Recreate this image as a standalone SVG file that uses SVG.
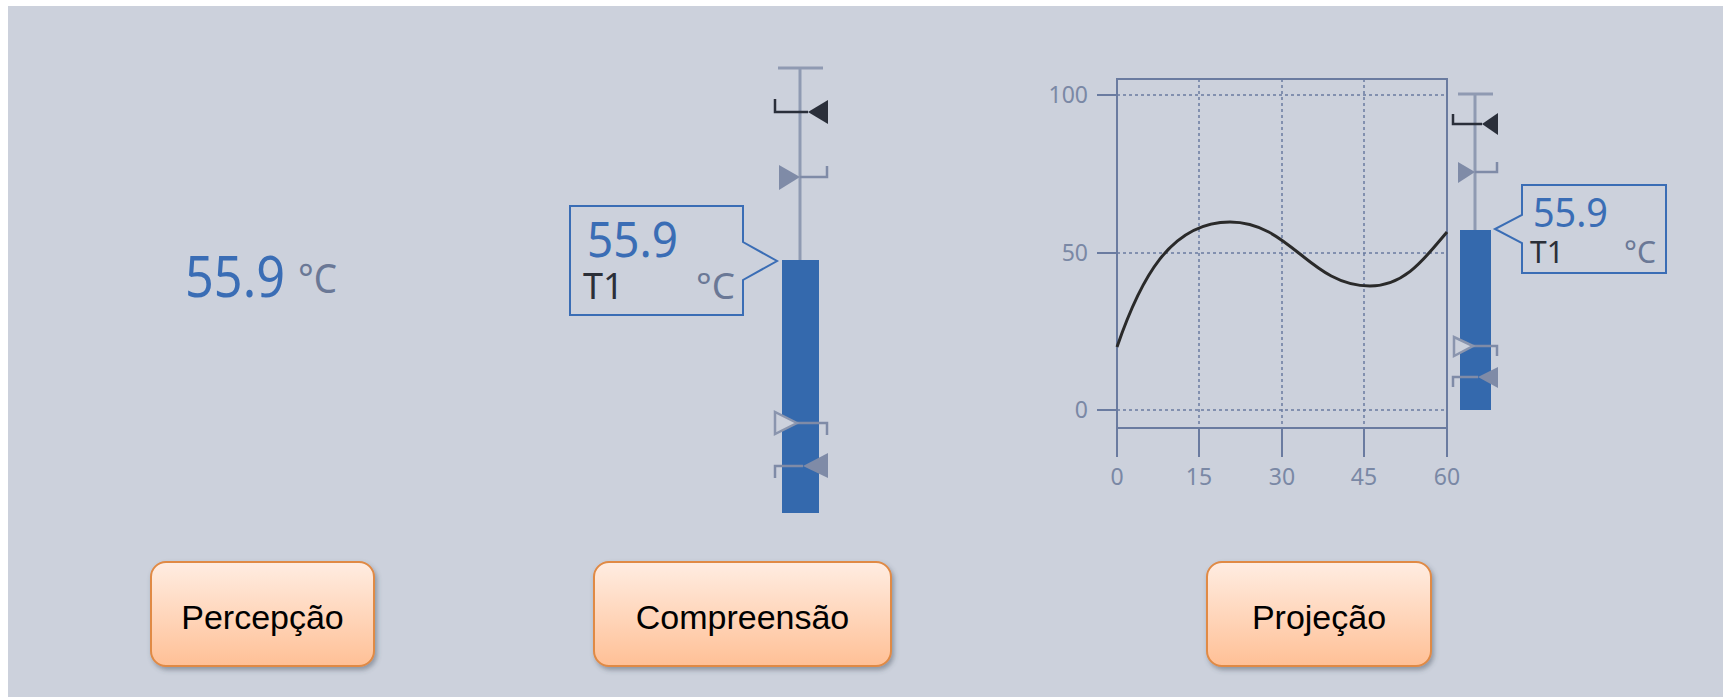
<svg xmlns="http://www.w3.org/2000/svg" width="1723" height="697" viewBox="0 0 1723 697">
<style>
.num{font-family:"Noto Sans","Open Sans",sans-serif;fill:#3A6DB5}
.tag{font-family:"Noto Sans","Open Sans",sans-serif;fill:#2B2F38}
.unit{font-family:"Noto Sans","Open Sans",sans-serif;fill:#6A7896}
.axl{font-family:"Noto Sans","Open Sans",sans-serif;fill:#7A88A5;font-size:23px}
.btn{fill:url(#bg);stroke:#E08A45;stroke-width:2;filter:url(#sh)}
.btxt{font-family:"Liberation Sans",Arial,sans-serif;font-size:34px;fill:#000;text-anchor:middle}
.stem{stroke:#8F9AB2;stroke-width:3;fill:none}
.bar{fill:#3469AD}
.dk{fill:#2A2F3A}
.dkl{stroke:#2A2F3A;stroke-width:2.5;fill:none}
.gr{fill:#7F8BA7}
.grl{stroke:#7F8BA7;stroke-width:2.5;fill:none}
.callout{fill:none;stroke:#3A6DB5;stroke-width:2}
.grid{stroke:#6A7BA0;stroke-width:1.5;stroke-dasharray:3 3;fill:none}
.axis{stroke:#6A7BA0;stroke-width:2;fill:none}
.curve{stroke:#2A2A2A;stroke-width:3;fill:none}
</style>
<defs>
<linearGradient id="bg" x1="0" y1="0" x2="0" y2="1">
<stop offset="0" stop-color="#FFEDE2"/>
<stop offset="1" stop-color="#FFC096"/>
</linearGradient>
<filter id="sh" x="-10%" y="-10%" width="130%" height="140%">
<feDropShadow dx="2" dy="3" stdDeviation="2.5" flood-color="#404858" flood-opacity="0.45"/>
</filter>
</defs>
<rect x="0" y="0" width="1723" height="697" fill="#FFFFFF"/>
<rect x="8" y="6" width="1715" height="691" fill="#CCD1DC"/>

<g id="perception-value">
<text class="num" x="185" y="297" font-size="56" textLength="100" lengthAdjust="spacingAndGlyphs">55.9</text>
<text class="unit" x="298" y="293" font-size="40" textLength="39" lengthAdjust="spacingAndGlyphs">°C</text>
</g>

<g id="comprehension-gauge">
<line class="stem" x1="778" y1="68" x2="823" y2="68"/>
<line class="stem" x1="800" y1="68" x2="800" y2="262"/>
<polyline class="dkl" points="775,99 775,112 808,112"/>
<polygon class="dk" points="808,112 828,100 828,124"/>
<polyline class="grl" points="800,177 827,177 827,166"/>
<polygon class="gr" points="800,177 779,165 779,190"/>
<rect class="bar" x="782" y="260" width="37" height="253"/>
<polyline class="grl" points="797,423 827,423 827,435"/>
<polygon points="797,423 775,412 775,434" fill="#CCD1DC" stroke="#8A95AE" stroke-width="2.5"/>
<polyline class="grl" points="775,478 775,466 803,466"/>
<polygon class="gr" points="803,466 828,453 828,478"/>
<path class="callout" d="M570,206 H743 V242 L777,261 L743,280 V315 H570 Z"/>
<text class="num" x="587" y="257" font-size="50" textLength="91" lengthAdjust="spacingAndGlyphs">55.9</text>
<text class="tag" x="583" y="299" font-size="36">T1</text>
<text class="unit" x="696" y="299" font-size="36" textLength="39" lengthAdjust="spacingAndGlyphs">°C</text>
</g>

<g id="projection-chart">
<g class="grid">
<line x1="1117" y1="95" x2="1447" y2="95"/>
<line x1="1117" y1="253" x2="1447" y2="253"/>
<line x1="1117" y1="410" x2="1447" y2="410"/>
<line x1="1199" y1="79" x2="1199" y2="428"/>
<line x1="1282" y1="79" x2="1282" y2="428"/>
<line x1="1364" y1="79" x2="1364" y2="428"/>
</g>
<g class="axis">
<path d="M1117,457 V79 H1447 V457"/>
<line x1="1117" y1="428" x2="1447" y2="428"/>
<line x1="1199" y1="428" x2="1199" y2="457"/>
<line x1="1282" y1="428" x2="1282" y2="457"/>
<line x1="1364" y1="428" x2="1364" y2="457"/>
<line x1="1097" y1="95" x2="1117" y2="95"/>
<line x1="1097" y1="253" x2="1117" y2="253"/>
<line x1="1097" y1="410" x2="1117" y2="410"/>
</g>
<text class="axl" x="1088" y="103" text-anchor="end">100</text>
<text class="axl" x="1088" y="261" text-anchor="end">50</text>
<text class="axl" x="1088" y="418" text-anchor="end">0</text>
<text class="axl" x="1117" y="485" text-anchor="middle">0</text>
<text class="axl" x="1199" y="485" text-anchor="middle">15</text>
<text class="axl" x="1282" y="485" text-anchor="middle">30</text>
<text class="axl" x="1364" y="485" text-anchor="middle">45</text>
<text class="axl" x="1447" y="485" text-anchor="middle">60</text>
<path class="curve" d="M1117,347 C1140,280 1170,222 1230,222 C1290,222 1310,286 1370,286 C1405,286 1425,258 1447,232"/>
</g>

<g id="projection-gauge">
<line class="stem" x1="1458" y1="94" x2="1493" y2="94"/>
<line class="stem" x1="1475" y1="94" x2="1475" y2="232"/>
<polyline class="dkl" points="1453,114 1453,124 1482,124"/>
<polygon class="dk" points="1482,124 1498,113 1498,135"/>
<polyline class="grl" points="1475,172 1497,172 1497,162"/>
<polygon class="gr" points="1475,172 1458,162 1458,183"/>
<rect class="bar" x="1460" y="230" width="31" height="180"/>
<polyline class="grl" points="1473,346 1497,346 1497,356"/>
<polygon points="1473,346 1454,337 1454,356" fill="#CCD1DC" stroke="#8A95AE" stroke-width="2.5"/>
<polyline class="grl" points="1453,387 1453,377 1478,377"/>
<polygon class="gr" points="1478,377 1498,367 1498,388"/>
<path class="callout" d="M1522,185 H1666 V273 H1522 V243 L1495,229 L1522,215 Z"/>
<text class="num" x="1533" y="227" font-size="40" textLength="75" lengthAdjust="spacingAndGlyphs">55.9</text>
<text class="tag" x="1530" y="263" font-size="30">T1</text>
<text class="unit" x="1624" y="263" font-size="30" textLength="32" lengthAdjust="spacingAndGlyphs">°C</text>
</g>

<g id="btn-percepcao">
<rect class="btn" x="151" y="562" width="223" height="104" rx="15"/>
<text class="btxt" x="262.5" y="629">Percepção</text>
</g>
<g id="btn-compreensao">
<rect class="btn" x="594" y="562" width="297" height="104" rx="15"/>
<text class="btxt" x="742.5" y="629">Compreensão</text>
</g>
<g id="btn-projecao">
<rect class="btn" x="1207" y="562" width="224" height="104" rx="15"/>
<text class="btxt" x="1319" y="629">Projeção</text>
</g>
<g id="connectors"/>
</svg>
